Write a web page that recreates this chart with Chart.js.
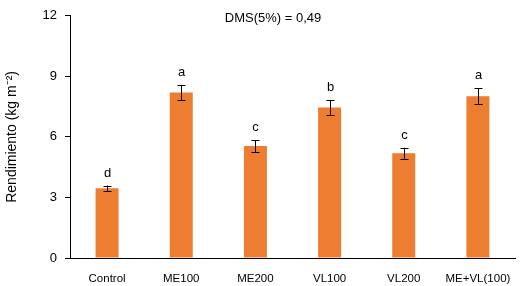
<!DOCTYPE html>
<html>
<head>
<meta charset="utf-8">
<script src="https://cdn.jsdelivr.net/npm/chart.js@4/dist/chart.umd.min.js"></script>
<style>
  html, body { margin: 0; padding: 0; background: #fff; }
  #wrap { width: 520px; height: 286px; position: relative; }
</style>
</head>
<body>
<div id="wrap"><canvas id="c"></canvas></div>
<script>
const categories = ['Control', 'ME100', 'ME200', 'VL100', 'VL200', 'ME+VL(100)'];
const yieldVals = [3.45, 8.2, 5.55, 7.46, 5.19, 8.02];
const errVals = [0.14, 0.38, 0.3, 0.36, 0.27, 0.38];
const letters = ['d', 'a', 'c', 'b', 'c', 'a'];
const yTicks = [0, 3, 6, 9, 12];
const noteText = 'DMS(5%) = 0,49';

const FONT = '"Liberation Sans", Arial, sans-serif';

const errorBars = {
  id: 'errorBars',
  afterDatasetsDraw(chart){
    const ctx = chart.ctx;
    const x = chart.scales.x, y = chart.scales.y;
    ctx.save();
    ctx.strokeStyle = '#000';
    ctx.lineWidth = 1;
    ctx.fillStyle = '#000';
    ctx.font = '13px ' + FONT;
    ctx.textAlign = 'center';
    ctx.textBaseline = 'alphabetic';
    yieldVals.forEach((v, i) => {
      const cx = Math.round(x.getPixelForValue(i)) + 0.5;
      const top = y.getPixelForValue(v + errVals[i]);
      const bot = y.getPixelForValue(v - errVals[i]);
      ctx.beginPath();
      ctx.moveTo(cx, top); ctx.lineTo(cx, bot);
      ctx.moveTo(cx - 4, Math.round(top) + 0.5); ctx.lineTo(cx + 4, Math.round(top) + 0.5);
      ctx.moveTo(cx - 4, Math.round(bot) + 0.5); ctx.lineTo(cx + 4, Math.round(bot) + 0.5);
      ctx.stroke();
      ctx.fillText(letters[i], cx, top - 9);
    });
    ctx.font = '13px ' + FONT;
    ctx.fillText(noteText, 273, 22);
    ctx.restore();
  }
};

new Chart(document.getElementById('c'), {
  type: 'bar',
  data: {
    labels: categories,
    datasets: [{
      data: yieldVals,
      backgroundColor: '#ED7D31',
      borderWidth: 0,
      barPercentage: 0.31,
      categoryPercentage: 1
    }]
  },
  options: {
    responsive: true,
    maintainAspectRatio: false,
    animation: false,
    layout: { padding: { top: 15, right: 5, left: 0, bottom: 0 } },
    plugins: { legend: { display: false }, tooltip: { enabled: false } },
    scales: {
      x: {
        grid: { display: false },
        border: { color: '#000', width: 1 },
        ticks: { color: '#000', font: { family: FONT, size: 11.5 }, padding: 6, maxRotation: 0 },
        afterFit(s){ s.height = 28; }
      },
      y: {
        min: 0, max: 12,
        afterBuildTicks(s){ s.ticks = yTicks.map(v => ({ value: v })); },
        grid: { drawOnChartArea: false, drawTicks: true, tickLength: 5, color: '#000' },
        border: { color: '#000', width: 1 },
        ticks: { color: '#000', font: { family: FONT, size: 13 }, padding: 8 },
        title: { display: true, text: 'Rendimiento (kg m\u207B\u00B2)', color: '#000', font: { family: FONT, size: 14 }, padding: { top: 4, bottom: 4 } },
        afterFit(s){ s.width = 70; }
      }
    }
  },
  plugins: [errorBars]
});
</script>
</body>
</html>
